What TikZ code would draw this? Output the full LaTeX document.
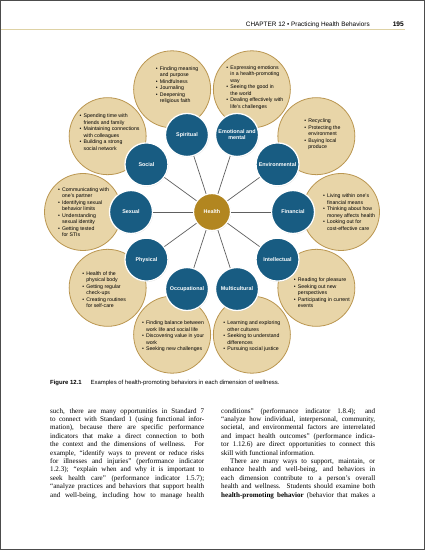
\documentclass[tikz,border=0pt]{standalone}
\usepackage{fontspec}
\setmainfont{Liberation Serif}
\setsansfont{Liberation Sans}
\usetikzlibrary{calc,shadows}
\definecolor{dimblue}{RGB}{24,92,130}
\definecolor{hubgold}{RGB}{178,134,32}
\definecolor{bubfill}{RGB}{232,213,168}
\definecolor{bubedge}{RGB}{186,150,80}
\definecolor{rulegold}{RGB}{222,210,165}
\newcommand{\bitem}{\makebox[4pt][l]{\textbullet}}
\newcommand{\bcont}{\hspace*{4pt}}

\begin{document}
\begin{tikzpicture}[
    x=1pt, y=1pt,
    dim/.style={circle, fill=dimblue, draw=white, line width=1.3pt, minimum size=43pt, inner sep=0pt, align=center, text=white, font=\sffamily\bfseries\fontsize{5.4}{6.2}\selectfont, drop shadow={opacity=0.3, shadow xshift=0.5pt, shadow yshift=-0.7pt}},
    hub/.style={dim, fill=hubgold, minimum size=37pt},
    bub/.style={circle, fill=bubfill, draw=bubedge, line width=0.8pt, minimum size=77pt, inner sep=0pt},
    lst/.style={align=left, inner sep=0pt, font=\sffamily\fontsize{5.2}{6.5}\selectfont},
    spoke/.style={draw=gray!75!black, line width=0.7pt},
    body/.style={anchor=north west, inner sep=0pt, text width=154pt, align=justify, font=\fontsize{7.05}{8.4}\selectfont}
]
    \useasboundingbox (0,0) rectangle (425,550);
    \fill[white] (0,0) rectangle (425,550);

    % running head
    \draw[rulegold, line width=0.8pt] (0,521) -- (405,521);
    \node[anchor=base east, inner sep=0pt, font=\sffamily\fontsize{6.4}{7}\selectfont] (hdr) at (370,523) {CHAPTER 12 \textbullet\ Practicing Health Behaviors};
    \node[anchor=base east, inner sep=0pt, font=\sffamily\bfseries\fontsize{6.6}{7}\selectfont] (pageno) at (404,523) {195};

    % behaviour bubbles
    \coordinate (c) at (212,338);
    \node[bub] (bSpiritual) at ($(c)+(108:129)$) {};
    \node[bub] (bEmotional) at ($(c)+(72:129)$) {};
    \node[bub] (bSocial) at ($(c)+(144:129)$) {};
    \node[bub] (bEnvironmental) at ($(c)+(36:129)$) {};
    \node[bub] (bSexual) at ($(c)+(180:129)$) {};
    \node[bub] (bFinancial) at ($(c)+(0:129)$) {};
    \node[bub] (bPhysical) at ($(c)+(216:129)$) {};
    \node[bub] (bIntellectual) at ($(c)+(324:129)$) {};
    \node[bub] (bOccupational) at ($(c)+(252:129)$) {};
    \node[bub] (bMulticultural) at ($(c)+(288:129)$) {};

    \node[lst] (tSpiritual) at ($(bSpiritual)+(5,4)$) {\bitem Finding meaning\\\bcont and purpose\\\bitem Mindfulness\\\bitem Journaling\\\bitem Deepening\\\bcont religious faith};
    \node[lst] (tEmotional) at ($(bEmotional)+(3,2)$) {\bitem Expressing emotions\\\bcont in a health-promoting\\\bcont way\\\bitem Seeing the good in\\\bcont the world\\\bitem Dealing effectively with\\\bcont life's challenges};
    \node[lst] (tSocial) at ($(bSocial)+(2,4)$) {\bitem Spending time with\\\bcont friends and family\\\bitem Maintaining connections\\\bcont with colleagues\\\bitem Building a strong\\\bcont social network};
    \node[lst] (tEnvironmental) at ($(bEnvironmental)+(6,2)$) {\bitem Recycling\\\bitem Protecting the\\\bcont environment\\\bitem Buying local\\\bcont produce};
    \node[lst] (tSexual) at ($(bSexual)+(0.5,0)$) {\bitem Communicating with\\\bcont one's partner\\\bitem Identifying sexual\\\bcont behavior limits\\\bitem Understanding\\\bcont sexual identity\\\bitem Getting tested\\\bcont for STIs};
    \node[lst] (tFinancial) at ($(bFinancial)+(8,0)$) {\bitem Living within one's\\\bcont financial means\\\bitem Thinking about how\\\bcont money affects health\\\bitem Looking out for\\\bcont cost-effective care};
    \node[lst] (tPhysical) at ($(bPhysical)+(-3.5,-2)$) {\bitem Health of the\\\bcont physical body\\\bitem Getting regular\\\bcont check-ups\\\bitem Creating routines\\\bcont for self-care};
    \node[lst] (tIntellectual) at ($(bIntellectual)+(5.5,-5)$) {\bitem Reading for pleasure\\\bitem Seeking out new\\\bcont perspectives\\\bitem Participating in current\\\bcont events};
    \node[lst] (tOccupational) at ($(bOccupational)+(1,-1.5)$) {\bitem Finding balance between\\\bcont work life and social life\\\bitem Discovering value in your\\\bcont work\\\bitem Seeking new challenges};
    \node[lst] (tMulticultural) at ($(bMulticultural)+(0,-1.5)$) {\bitem Learning and exploring\\\bcont other cultures\\\bitem Seeking to understand\\\bcont differences\\\bitem Pursuing social justice};

    % dimensions of wellness
    \node[dim] (spiritual) at ($(c)+(108:81)$) {Spiritual};
    \node[dim] (emotional) at ($(c)+(72:81)$) {Emotional and\\mental};
    \node[dim] (social) at ($(c)+(144:81)$) {Social};
    \node[dim] (environmental) at ($(c)+(36:81)$) {Environmental};
    \node[dim] (sexual) at ($(c)+(180:81)$) {Sexual};
    \node[dim] (financial) at ($(c)+(0:81)$) {Financial};
    \node[dim] (physical) at ($(c)+(216:81)$) {Physical};
    \node[dim] (intellectual) at ($(c)+(324:81)$) {Intellectual};
    \node[dim] (occupational) at ($(c)+(252:81)$) {Occupational};
    \node[dim] (multicultural) at ($(c)+(288:81)$) {Multicultural};
    \node[hub] (health) at (c) {Health};

    \draw[spoke] (health) -- (spiritual);
    \draw[spoke] (health) -- (emotional);
    \draw[spoke] (health) -- (social);
    \draw[spoke] (health) -- (environmental);
    \draw[spoke] (health) -- (sexual);
    \draw[spoke] (health) -- (financial);
    \draw[spoke] (health) -- (physical);
    \draw[spoke] (health) -- (intellectual);
    \draw[spoke] (health) -- (occupational);
    \draw[spoke] (health) -- (multicultural);

    % caption and running text
    \node[anchor=base west, inner sep=0pt, font=\sffamily\fontsize{5.95}{6.5}\selectfont] (caption) at (50,165) {\textbf{Figure 12.1}\hspace{9pt}Examples of health-promoting behaviors in each dimension of wellness.};

    \node[body] (colL) at (50,142) {\parindent=0pt\spaceskip=0.25em plus 0.3em minus 0.12em
such, there are many opportunities in Standard 7\linebreak
to connect with Standard 1 (using functional infor-\linebreak
mation), because there are specific performance\linebreak
indicators that make a direct connection to both\linebreak
the context and the dimensions of wellness. For\linebreak
example, ``identify ways to prevent or reduce risks\linebreak
for illnesses and injuries'' (performance indicator\linebreak
1.2.3); ``explain when and why it is important to\linebreak
seek health care'' (performance indicator 1.5.7);\linebreak
``analyze practices and behaviors that support health\linebreak
and well-being, including how to manage health\parfillskip=0pt\par};
    \node[body] (colR) at (221,142) {\parindent=0pt\spaceskip=0.25em plus 0.3em minus 0.12em
conditions'' (performance indicator 1.8.4); and\linebreak
``analyze how individual, interpersonal, community,\linebreak
societal, and environmental factors are interrelated\linebreak
and impact health outcomes'' (performance indica-\linebreak
tor 1.12.6) are direct opportunities to connect this\linebreak
skill with functional information.\par
\hspace*{9pt}There are many ways to support, maintain, or\linebreak
enhance health and well-being, and behaviors in\linebreak
each dimension contribute to a person's overall\linebreak
health and wellness. Students should examine both\linebreak
\textbf{health-promoting behavior} (behavior that makes a\parfillskip=0pt\par};

    \draw[gray!60!black, line width=1pt] (0.5,0.5) rectangle (424.5,549.5);
\end{tikzpicture}
\end{document}
